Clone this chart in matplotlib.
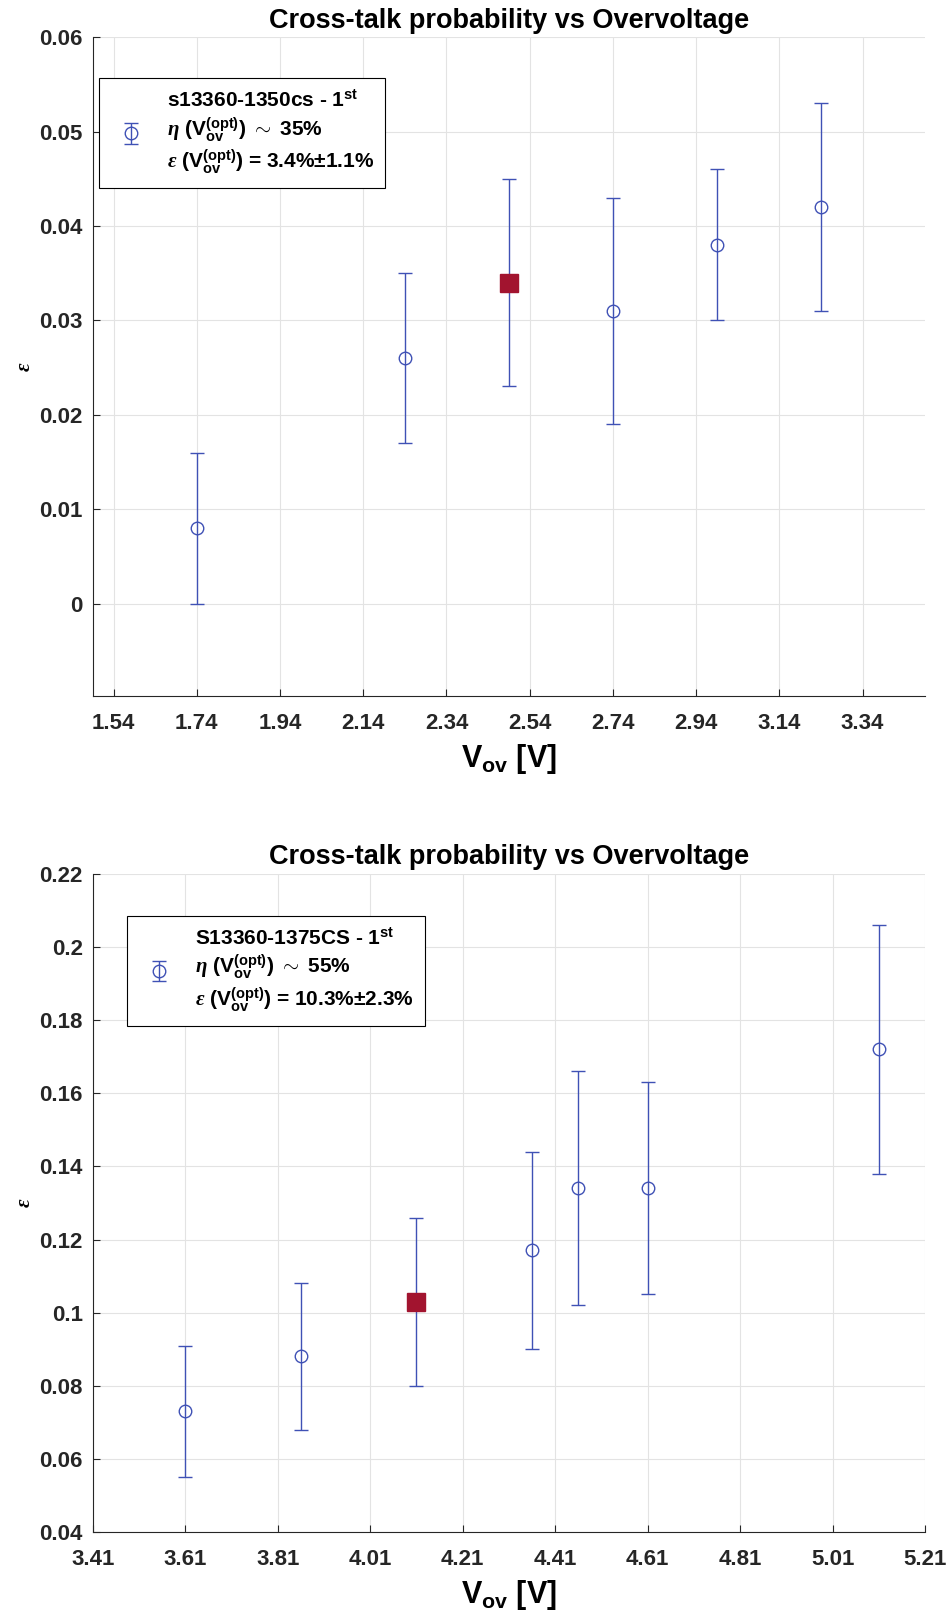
import numpy as np
import matplotlib.pyplot as plt
from matplotlib.ticker import FuncFormatter

plt.rcParams['font.family'] = ['Liberation Sans', 'DejaVu Sans']
plt.rcParams['font.weight'] = 'bold'
plt.rcParams['mathtext.fontset'] = 'custom'
plt.rcParams['mathtext.rm'] = 'Liberation Sans:bold'
plt.rcParams['mathtext.bf'] = 'Liberation Sans:bold'
plt.rcParams['mathtext.it'] = 'Liberation Serif:italic'

blue = '#3f51b5'
red = '#a2142f'

# s13360-1350cs
vov_a = [1.74, 2.24, 2.49, 2.74, 2.99, 3.24]
eps_a = [0.008, 0.026, 0.034, 0.031, 0.038, 0.042]
err_a = [0.008, 0.009, 0.011, 0.012, 0.008, 0.011]
opt_a = 2
xticks_a = [1.54, 1.74, 1.94, 2.14, 2.34, 2.54, 2.74, 2.94, 3.14, 3.34]
yticks_a = [0, 0.01, 0.02, 0.03, 0.04, 0.05, 0.06]
label_a = ('s13360-1350cs - 1$^{\\mathbf{st}}$\n'
           '$\\eta$ ($\\mathbf{V_{ov}^{(opt)}}$) $\\sim$ 35%\n'
           '$\\epsilon$ ($\\mathbf{V_{ov}^{(opt)}}$) = 3.4%$\\pm$1.1%')

# S13360-1375CS
vov_b = [3.61, 3.86, 4.11, 4.36, 4.46, 4.61, 5.11]
eps_b = [0.073, 0.088, 0.103, 0.117, 0.134, 0.134, 0.172]
err_b = [0.018, 0.020, 0.023, 0.027, 0.032, 0.029, 0.034]
opt_b = 2
xticks_b = [3.41, 3.61, 3.81, 4.01, 4.21, 4.41, 4.61, 4.81, 5.01, 5.21]
yticks_b = [0.04, 0.06, 0.08, 0.1, 0.12, 0.14, 0.16, 0.18, 0.2, 0.22]
label_b = ('S13360-1375CS - 1$^{\\mathbf{st}}$\n'
           '$\\eta$ ($\\mathbf{V_{ov}^{(opt)}}$) $\\sim$ 55%\n'
           '$\\epsilon$ ($\\mathbf{V_{ov}^{(opt)}}$) = 10.3%$\\pm$2.3%')


def crosstalk_panel(ax, vov, eps, err, opt, xticks, yticks, xlim, ylim, label, leg_pos):
    eb = ax.errorbar(vov, eps, yerr=err, fmt='o', color=blue, mfc='none', mec=blue,
                     ms=9, mew=1, elinewidth=1, capsize=5, capthick=1, zorder=3)
    ax.plot(vov[opt], eps[opt], 's', color=red, ms=13, zorder=4)
    ax.set_xlim(*xlim)
    ax.set_ylim(*ylim)
    ax.set_xticks(xticks)
    ax.set_yticks(yticks)
    ax.xaxis.set_major_formatter(FuncFormatter(lambda v, p: '%.2f' % v))
    ax.yaxis.set_major_formatter(FuncFormatter(lambda v, p: '%g' % round(v, 3)))
    ax.tick_params(direction='in', length=5, width=0.8, colors='#262626',
                   labelsize=16)
    ax.tick_params(axis='x', pad=12)
    ax.tick_params(axis='y', pad=7)
    for s in ('top', 'right'):
        ax.spines[s].set_visible(False)
    for s in ('left', 'bottom'):
        ax.spines[s].set_color('#262626')
        ax.spines[s].set_linewidth(0.8)
    ax.grid(True, color='#e3e3e3', linewidth=0.8)
    ax.set_axisbelow(True)
    ax.set_title('Cross-talk probability vs Overvoltage', fontsize=19.5,
                 fontweight='bold', pad=7)
    ax.set_xlabel('$\\mathbf{V_{ov}}$ [V]', fontsize=22, fontweight='bold', labelpad=6)
    ax.set_ylabel('$\\epsilon$', fontsize=15, fontweight='normal', labelpad=4)
    leg = ax.legend([eb], [label], loc='upper left', bbox_to_anchor=leg_pos,
                    bbox_transform=ax.figure.transFigure, borderaxespad=0,
                    fancybox=False, framealpha=1, edgecolor='black',
                    handlelength=2.0, handletextpad=0.7, borderpad=0.55,
                    prop={'size': 15, 'weight': 'bold'})
    leg.get_frame().set_linewidth(0.8)


fig = plt.figure(figsize=(9.5, 16.16), dpi=100)
ax1 = fig.add_axes([0.0976, 0.5693, 0.8761, 0.4076])
ax2 = fig.add_axes([0.0976, 0.0520, 0.8761, 0.4072])

crosstalk_panel(ax1, vov_a, eps_a, err_a, opt_a, xticks_a, yticks_a,
                (1.49, 3.49), (-0.0098, 0.06), label_a, (0.1042, 0.9517))
crosstalk_panel(ax2, vov_b, eps_b, err_b, opt_b, xticks_b, yticks_b,
                (3.41, 5.21), (0.04, 0.22), label_b, (0.1337, 0.4332))

fig.savefig('out.png', dpi=100)
